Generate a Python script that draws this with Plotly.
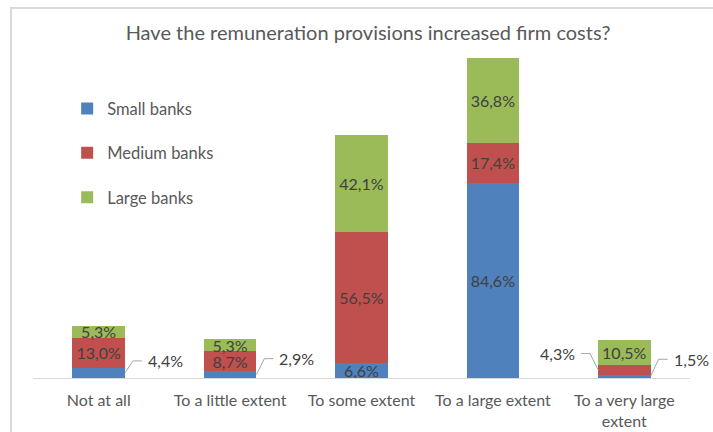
import plotly.graph_objects as go

# Survey answers and share of respondents (%) per bank size
categories = ["Not at all", "To a little extent", "To some extent",
              "To a large extent", "To a very large<br>extent"]
small_banks = [4.4, 2.9, 6.6, 84.6, 1.5]
medium_banks = [13.0, 8.7, 56.5, 17.4, 4.3]
large_banks = [5.3, 5.3, 42.1, 36.8, 10.5]

series_names = ["Small banks", "Medium banks", "Large banks"]
series_colors = ["#4F81BD", "#C0504D", "#9BBB59"]

# Labels drawn outside the bar with a leader line: (series, index, side, lift in px)
outside_labels = [(0, 0, "right", 12), (0, 1, "right", 16),
                  (0, 4, "right", 17), (1, 4, "left", 16)]

W, H = 713, 432
M = dict(l=33, r=23, t=55, b=54)
X_RANGE = [-0.5, len(categories) - 0.5]
Y_RANGE = [0, 140]
BAR_W = 0.4
FONT = "Lato"
LABEL_COLOR = "#404040"
LABEL_SIZE = 16

px_per_x = (W - M["l"] - M["r"]) / (X_RANGE[1] - X_RANGE[0])
px_per_y = (H - M["t"] - M["b"]) / (Y_RANGE[1] - Y_RANGE[0])


def fmt(v):
    return f"{v:.1f}".replace(".", ",") + "%"


all_series = [small_banks, medium_banks, large_banks]
x_pos = list(range(len(categories)))

fig = go.Figure()
for s, (name, vals, col) in enumerate(zip(series_names, all_series, series_colors)):
    hidden = {i for (ss, i, _, _) in outside_labels if ss == s}
    texts = ["" if i in hidden else fmt(v) for i, v in enumerate(vals)]
    fig.add_trace(go.Bar(
        x=x_pos, y=vals, name=name, width=BAR_W,
        marker=dict(color=col, line=dict(width=0)),
        text=texts, textposition="inside", insidetextanchor="middle",
        textangle=0, textfont=dict(family=FONT, size=LABEL_SIZE, color=LABEL_COLOR),
        legendgroup=name,
    ))

# Leader lines and labels for the thin segments
shapes = []
annotations = []
for s, i, side, lift in outside_labels:
    vals = all_series[s]
    base = sum(all_series[k][i] for k in range(s))
    y0 = base + vals[i] / 2
    sign = 1 if side == "right" else -1
    x0 = i + sign * BAR_W / 2
    y1 = y0 + lift / px_per_y
    xe = x0 + sign * 8 / px_per_x
    xh = x0 + sign * 17 / px_per_x
    shapes.append(dict(
        type="path", xref="x", yref="y",
        path=f"M {x0},{y0} L {xe},{y1} L {xh},{y1}",
        line=dict(color="#A6A6A6", width=1),
    ))
    annotations.append(dict(
        x=x0 + sign * 21 / px_per_x, y=y1, xref="x", yref="y",
        text=fmt(vals[i]), showarrow=False,
        xanchor="left" if side == "right" else "right", yanchor="middle",
        font=dict(family=FONT, size=LABEL_SIZE, color=LABEL_COLOR),
    ))

# Light frame around the chart
shapes.append(dict(
    type="rect", xref="paper", yref="paper", layer="below",
    x0=(11 - M["l"]) / (W - M["l"] - M["r"]), x1=1.2,
    y0=-0.5, y1=(H - M["b"] - 8) / (H - M["t"] - M["b"]),
    line=dict(color="#D9D9D9", width=2), fillcolor="rgba(0,0,0,0)",
))

fig.update_layout(
    width=W, height=H, autosize=False,
    margin=dict(M, autoexpand=False),
    paper_bgcolor="white", plot_bgcolor="white",
    barmode="stack",
    title=dict(text="Have the remuneration provisions increased firm costs?",
               x=(368 - M["l"]) / (W - M["l"] - M["r"]), xref="paper",
               xanchor="center", y=1 - 33 / H, yanchor="middle",
               font=dict(family=FONT, size=20, color="#595959")),
    legend=dict(x=0.052, y=0.888, xanchor="left", yanchor="top",
                font=dict(family=FONT, size=16.5, color="#595959"),
                tracegroupgap=20, traceorder="grouped",
                bgcolor="rgba(0,0,0,0)"),
    uniformtext=dict(minsize=LABEL_SIZE, mode="show"),
    shapes=shapes,
    annotations=annotations,
    xaxis=dict(range=X_RANGE, tickvals=x_pos, ticktext=categories,
               showline=True, linecolor="#D9D9D9", linewidth=1,
               showgrid=False, zeroline=False, ticks="",
               ticklabelstandoff=8, automargin=False,
               tickfont=dict(family=FONT, size=16, color="#595959"),
               fixedrange=True),
    yaxis=dict(range=Y_RANGE, visible=False, showgrid=False, fixedrange=True,
               automargin=False),
    showlegend=True,
)

fig.write_html("out.html")
